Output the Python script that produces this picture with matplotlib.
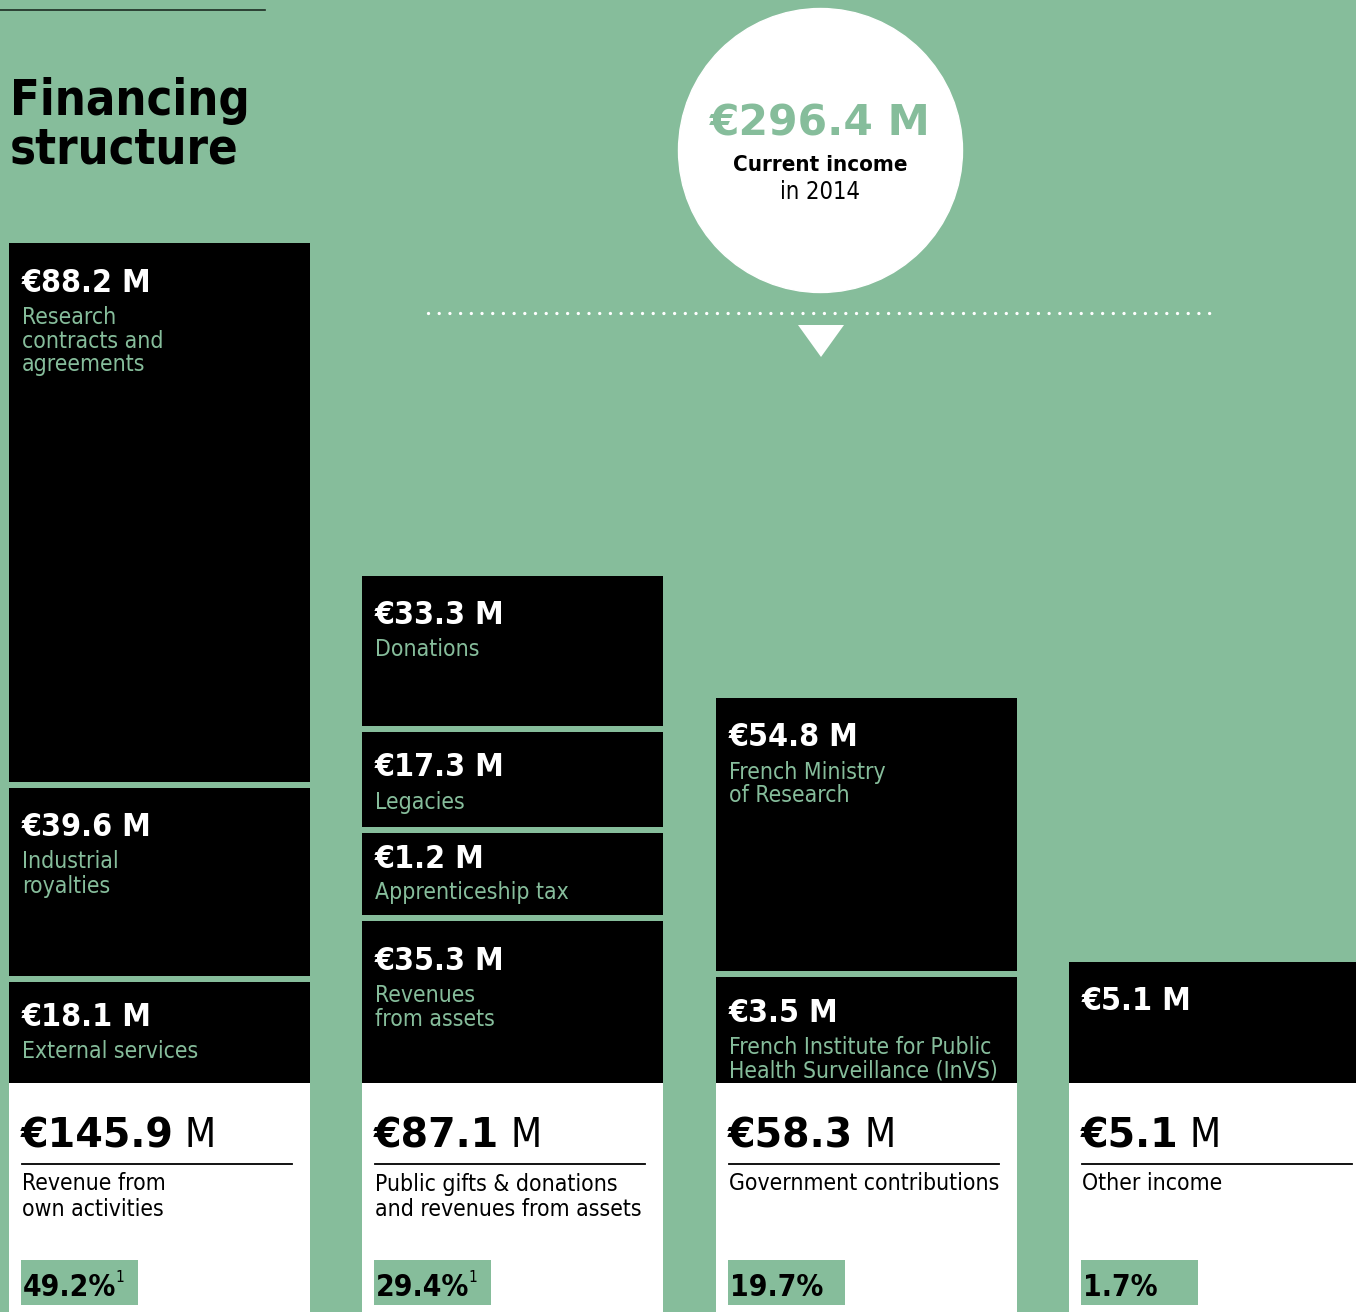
import matplotlib
matplotlib.use("Agg")
import matplotlib.pyplot as plt
from matplotlib import font_manager
from matplotlib.patches import Circle, Rectangle

# income groups (bottom white cards)
group_labels = ["Revenue from\nown activities",
                "Public gifts & donations\nand revenues from assets",
                "Government contributions",
                "Other income"]
group_totals = [145.9, 87.1, 58.3, 5.1]
group_shares = [49.2, 29.4, 19.7, 1.7]
share_notes = ["1", "1", "", ""]

# detail of each group, listed top to bottom
seg_values = [[88.2, 39.6, 18.1],
              [33.3, 17.3, 1.2, 35.3],
              [54.8, 3.5],
              [5.1]]
seg_labels = [["Research\ncontracts and\nagreements", "Industrial\nroyalties", "External services"],
              ["Donations", "Legacies", "Apprenticeship tax", "Revenues\nfrom assets"],
              ["French Ministry\nof Research", "French Institute for Public\nHealth Surveillance (InVS)"],
              [""]]

total_income = 296.4
income_year = 2014

# layout (pixels)
col_left = [9, 362, 716, 1069]
col_width = [301, 301, 301, 287]
seg_heights = [[539, 188, 101],
               [150, 95, 82, 162],
               [273, 106],
               [121]]
seg_gap = 6
base_y = 1083

GREEN = "#86bd9b"
W, H = 1356, 1312

names = {(f.name, f.stretch) for f in font_manager.fontManager.ttflist}
if ("DejaVu Sans", "condensed") in names:
    NARROW = dict(family="DejaVu Sans", fontstretch="condensed")
elif any(n[0] == "DejaVu Sans Condensed" for n in names):
    NARROW = dict(family="DejaVu Sans Condensed")
elif any(n[0] == "Liberation Sans Narrow" for n in names):
    NARROW = dict(family="Liberation Sans Narrow")
else:
    NARROW = dict(family="DejaVu Sans")

fig = plt.figure(figsize=(W / 100, H / 100), dpi=100)
fig.patch.set_facecolor(GREEN)
ax = fig.add_axes([0, 0, 1, 1])
ax.set_xlim(0, W)
ax.set_ylim(H, 0)
ax.axis("off")
ax.set_facecolor(GREEN)

renderer = fig.canvas.get_renderer()


def text_right(t):
    return t.get_window_extent(renderer=renderer).x1


# header
ax.plot([0, 265], [10, 10], color="#1c2b22", lw=1.2)
ax.text(10, 101, "Financing", fontsize=35, fontweight="bold", color="black",
        va="center", ha="left", **NARROW)
ax.text(10, 150, "structure", fontsize=35, fontweight="bold", color="black",
        va="center", ha="left", **NARROW)

ax.add_patch(Circle((820.5, 150.5), 142, color="white", zorder=2))
ax.text(820, 124, f"€{total_income} M", fontsize=30.5, fontweight="bold", color=GREEN,
        ha="center", va="center", zorder=3)
ax.text(820, 165, "Current income", fontsize=16, fontweight="bold", color="black",
        ha="center", va="center", zorder=3, **NARROW)
ax.text(820, 192, f"in {income_year}", fontsize=17, color="black",
        ha="center", va="center", zorder=3, **NARROW)

ax.plot([428, 1214], [313, 313], color="white", lw=2.4,
        linestyle=(0, (0.01, 3.2)), dash_capstyle="round")
ax.fill([798, 844, 821], [325, 325, 357], color="white", lw=0)

for i in range(len(group_totals)):
    x0, w = col_left[i], col_width[i]

    # black detail blocks, stacked upward from the card
    heights = seg_heights[i]
    bottoms = []
    y = base_y
    for h in reversed(heights):
        bottoms.append(y)
        y -= h + seg_gap
    bottoms = bottoms[::-1]
    tops = [b - h for b, h in zip(bottoms, heights)]
    ax.bar([x0] * len(heights), heights, bottom=tops, width=w, align="edge",
           color="black", lw=0, zorder=2)

    for val, lab, top, h in zip(seg_values[i], seg_labels[i], tops, heights):
        if h >= 120:
            off = 40
        elif h >= 90:
            off = 36
        else:
            off = 26
        ax.text(x0 + 13, top + off, f"€{val} M", fontsize=23, fontweight="bold",
                color="white", ha="left", va="center", zorder=3, **NARROW)
        if lab:
            for k, line in enumerate(lab.split("\n")):
                ax.text(x0 + 13, top + off + 34 + 24 * k, line, fontsize=16.5,
                        color=GREEN, ha="left", va="center", zorder=4, **NARROW)

    # white summary card
    ax.add_patch(Rectangle((x0, base_y), w, H - base_y + 5, color="white", lw=0, zorder=2))
    tx = x0 + 13
    t = ax.text(tx - 1, 1147, f"€{group_totals[i]}", fontsize=28.5, fontweight="bold",
                color="black", ha="left", va="baseline", zorder=3)
    ax.text(text_right(t) + 11, 1147, "M", fontsize=29, color="black",
            ha="left", va="baseline", zorder=3, **NARROW)
    ax.plot([tx, tx + 270], [1164, 1164], color="black", lw=1.3, zorder=3)
    for k, line in enumerate(group_labels[i].split("\n")):
        ax.text(tx, 1184 + 26 * k, line, fontsize=16.5, color="black",
                ha="left", va="center", zorder=3, **NARROW)

    ax.add_patch(Rectangle((x0 + 12, 1260), 117, 45, color=GREEN, lw=0, zorder=3))
    p = ax.text(x0 + 14, 1296, f"{group_shares[i]}%", fontsize=21.5, fontweight="bold",
                color="black", ha="left", va="baseline", zorder=4, **NARROW)
    if share_notes[i]:
        ax.text(text_right(p) - 1, 1282, share_notes[i], fontsize=11, color="black",
                ha="left", va="baseline", zorder=4, **NARROW)

fig.savefig("out.png", dpi=100, facecolor=GREEN)
